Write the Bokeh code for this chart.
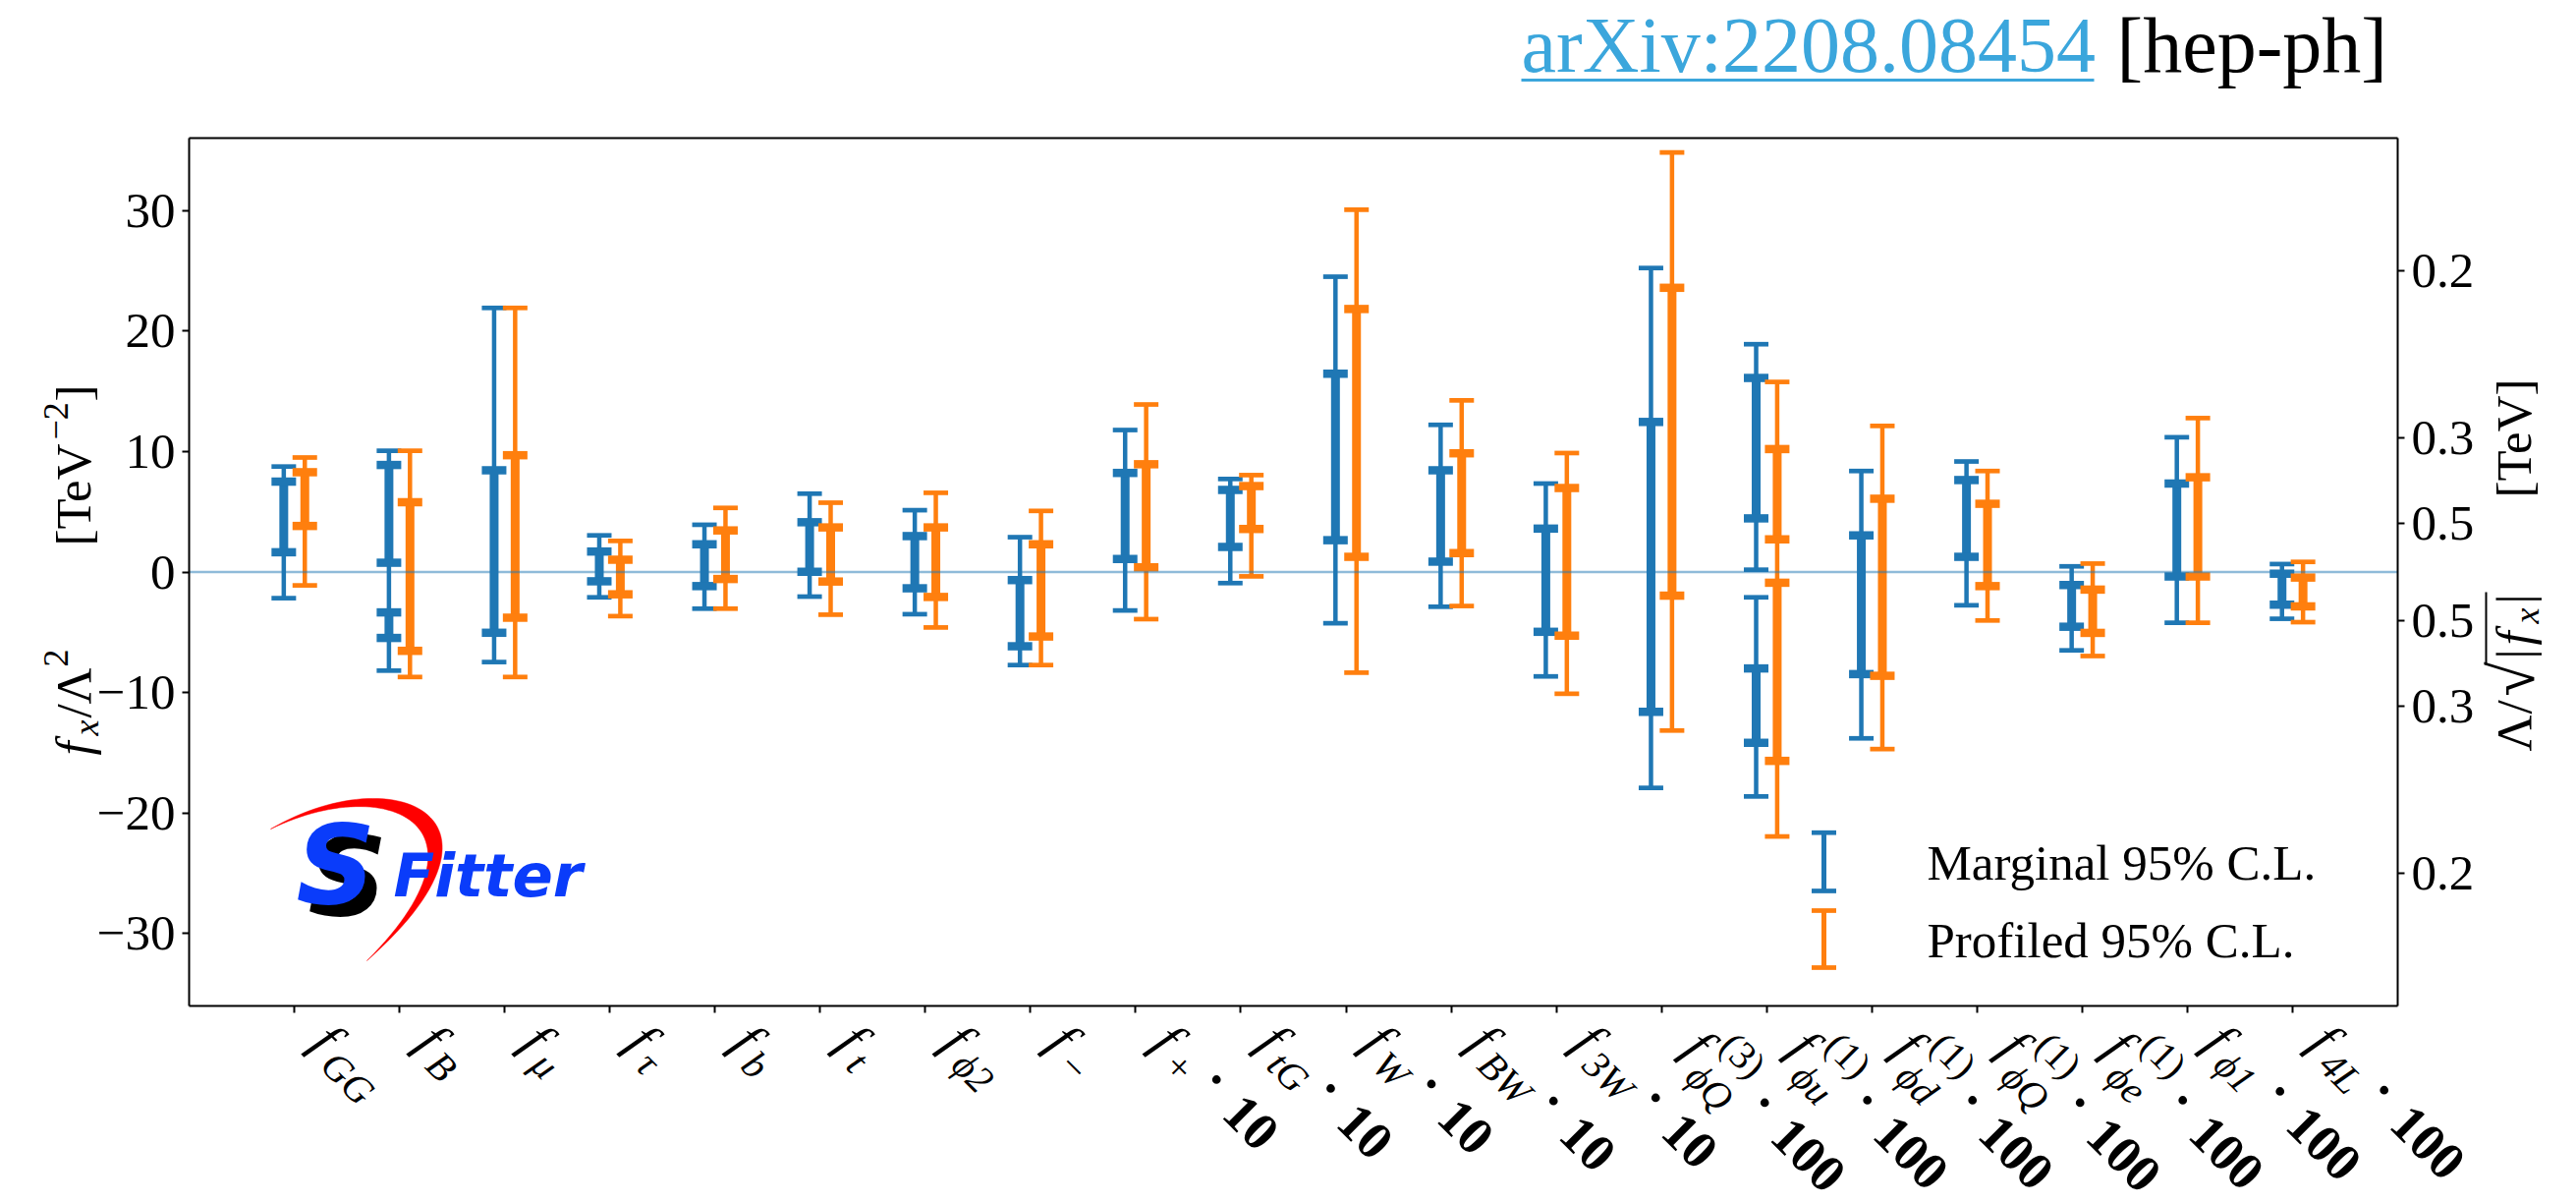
import math
import numpy as np
from bokeh.plotting import figure
from bokeh.models import (ColumnDataSource, Range1d, LinearAxis, FixedTicker,
                          CustomJSTickFormatter)
from bokeh.embed import file_html
from bokeh.resources import INLINE
from bokeh.core.properties import value

# ---------------- data ----------------
coefficients = ["f_GG", "f_B", "f_mu", "f_tau", "f_b", "f_t", "f_phi2", "f_-",
                "f_+ *10", "f_tG *10", "f_W *10", "f_BW *10", "f_3W *10",
                "f_phiQ(3) *100", "f_phiu(1) *100", "f_phid(1) *100",
                "f_phiQ(1) *100", "f_phie(1) *100", "f_phi1 *100", "f_4L *100"]
label_sub = ["GG", "B", "μ", "τ", "b", "t", "ϕ2", "−", "+", "tG", "W", "BW", "3W",
             "ϕQ", "ϕu", "ϕd", "ϕQ", "ϕe", "ϕ1", "4L"]
label_sup = ["", "", "", "", "", "", "", "", "", "", "", "", "",
             "(3)", "(1)", "(1)", "(1)", "(1)", "", ""]
label_factor = ["", "", "", "", "", "", "", "", "10", "10", "10", "10", "10",
                "100", "100", "100", "100", "100", "100", "100"]

# Marginal 95% C.L. (outer, thin) and inner (thick) intervals  [TeV^-2]
marg95_lo = [-2.17, -8.18, -7.47, -2.10, -3.04, -2.04, -3.50, -7.72, -3.19, -0.92,
             -4.25, -2.88, -8.66, -17.91, 0.19, -13.80, -2.76, -6.50, -4.21, -3.88]
marg95_hi = [8.75, 10.06, 21.91, 3.04, 3.92, 6.50, 5.13, 2.89, 11.78, 7.72,
             24.50, 12.21, 7.34, 25.22, 18.90, 8.38, 9.17, 0.47, 11.18, 0.66]
marg68_lo = [1.64, 0.77, -5.04, -0.77, -1.17, 0.02, -1.35, -6.16, 1.08, 2.08,
             2.64, 0.86, -4.96, -11.60, 4.45, -8.47, 1.26, -4.54, -0.37, -2.71]
marg68_hi = [7.50, 8.88, 8.44, 1.70, 2.30, 4.13, 2.98, -0.67, 8.22, 6.81,
             16.45, 8.44, 3.60, 12.45, 16.10, 3.04, 7.63, -1.08, 7.34, -0.14]
# additional disjoint intervals (category index, low, high)
marg95_extra_cat = [14]
marg95_extra_lo = [-18.62]
marg95_extra_hi = [-2.10]
marg68_extra_cat = [1, 14]
marg68_extra_lo = [-5.47, -14.17]
marg68_extra_hi = [-3.35, -8.00]

# Profiled 95% C.L.
prof95_lo = [-1.11, -8.71, -8.71, -3.66, -3.04, -3.54, -4.60, -7.72, -3.91, -0.36,
             -8.35, -2.82, -10.10, -13.15, -21.94, -14.69, -4.02, -6.97, -4.21, -4.16]
prof95_hi = [9.50, 10.06, 21.91, 2.58, 5.32, 5.75, 6.57, 5.07, 13.90, 8.04,
             30.06, 14.24, 9.87, 34.81, 15.77, 12.12, 8.38, 0.70, 12.77, 0.84]
prof68_lo = [3.82, -6.54, -3.79, -1.85, -0.58, -0.79, -2.07, -5.35, 0.39, 3.57,
             1.26, 1.57, -5.28, -1.96, 2.71, -8.61, -1.17, -5.05, -0.37, -2.85]
prof68_hi = [8.28, 5.79, 9.69, 1.02, 3.45, 3.70, 3.70, 2.30, 8.94, 7.13,
             21.82, 9.85, 6.97, 23.58, 10.20, 6.08, 5.66, -1.46, 7.86, -0.46]
prof95_extra_cat = []
prof95_extra_lo = []
prof95_extra_hi = []
prof68_extra_cat = [14]
prof68_extra_lo = [-15.67]
prof68_extra_hi = [-0.89]

left_ticks = [-30, -20, -10, 0, 10, 20, 30]
right_tick_lambda = [0.2, 0.3, 0.5]   # Lambda/sqrt|f| in TeV

# ---------------- layout constants ----------------
W, H = 2622, 1224
BOX_L, BOX_R, BOX_T, BOX_B = 192, 2440, 140, 1023     # plot box in page pixels
CX0, CX1 = -1.0, 20.0                                  # data x at box edges
CY0, CY1 = -36.0, 36.0                                 # data y at box edges
UX = (BOX_R - BOX_L) / (CX1 - CX0)
UY = (BOX_B - BOX_T) / (CY1 - CY0)
XA, XB = CX0 - BOX_L / UX, CX1 + (W - BOX_R) / UX
YA, YB = CY0 - (H - BOX_B) / UY, CY1 + BOX_T / UY
BLUE, ORANGE = "#1f77b4", "#ff7f0e"
SERIF = "Liberation Serif"
BASE_SHIFT = 0.37   # renderer puts the alphabetic baseline this many em lower


def px2data(px, py):
    px = np.asarray(px, dtype=float)
    py = np.asarray(py, dtype=float)
    return XA + px / UX, YB - py / UY


p = figure(width=W, height=H, x_range=Range1d(XA, XB), y_range=Range1d(YA, YB),
           toolbar_location=None, output_backend="svg", title=None,
           x_axis_type=None, y_axis_type=None, min_border=0)
p.grid.visible = False
p.outline_line_color = None
p.background_fill_color = "white"
p.border_fill_color = "white"


def put_text(pxs, pys, texts, size, style="normal", color="black", align="left",
             angle=0.0, font=SERIF):
    """Place texts whose alphabetic baseline anchor lies at page pixels (px, py)."""
    s = BASE_SHIFT * size
    vx, vy = -math.sin(angle), -math.cos(angle)
    xs, ys = px2data(np.asarray(pxs, float) + s * vx, np.asarray(pys, float) + s * vy)
    src = ColumnDataSource(dict(x=list(xs), y=list(ys), text=list(texts)))
    p.text(x="x", y="y", text="text", source=src, angle=angle,
           text_font=value(font), text_font_size=f"{size:.1f}px",
           text_font_style=style, text_color=color, text_align=align,
           text_baseline="alphabetic")


def local2page(X0, Y0, angle, a, b):
    ux, uy = math.cos(angle), -math.sin(angle)
    vx, vy = -math.sin(angle), -math.cos(angle)
    return X0 + a * ux + b * vx, Y0 + a * uy + b * vy


def put_parts(X0, Y0, angle, parts):
    for txt, size, style, a, b in parts:
        px, py = local2page(X0, Y0, angle, a, b)
        put_text([px], [py], [txt], size, style=style, angle=angle)


# ---------------- axes (library axes fixed at the plot box) ----------------
def style_axis(ax, labels=True):
    ax.axis_line_color = "black"
    ax.axis_line_width = 2
    ax.major_tick_line_color = "black"
    ax.major_tick_line_width = 2
    ax.major_tick_out = 7
    ax.major_tick_in = 0
    ax.minor_tick_out = 0
    ax.minor_tick_in = 0
    ax.major_label_text_font = SERIF
    ax.major_label_text_font_size = "51px"
    ax.major_label_text_color = "black"
    ax.major_label_standoff = 7
    if not labels:
        ax.major_label_text_alpha = 0


yl = LinearAxis(fixed_location=CX0, bounds=(CY0, CY1), ticker=FixedTicker(ticks=left_ticks),
                formatter=CustomJSTickFormatter(
                    code="return (tick < 0 ? '\u2212' : '') + Math.abs(tick).toFixed(0);"))
style_axis(yl)
p.add_layout(yl, "left")

rticks = [1.0 / l ** 2 for l in right_tick_lambda] + [-1.0 / l ** 2 for l in right_tick_lambda]
yr = LinearAxis(fixed_location=CX1, bounds=(CY0, CY1), ticker=FixedTicker(ticks=rticks),
                formatter=CustomJSTickFormatter(
                    code="return (1/Math.sqrt(Math.abs(tick))).toFixed(1);"))
style_axis(yr)
p.add_layout(yr, "right")

xb = LinearAxis(fixed_location=CY0, bounds=(CX0, CX1),
                ticker=FixedTicker(ticks=list(range(len(coefficients)))))
style_axis(xb, labels=False)
p.add_layout(xb, "below")

xt = LinearAxis(fixed_location=CY1, bounds=(CX0, CX1), ticker=FixedTicker(ticks=[]))
style_axis(xt, labels=False)
xt.major_tick_out = 0
p.add_layout(xt, "above")


# ---------------- error bars ----------------
def draw_bars(off, lo95, hi95, lo68, hi68, ex95, ex68, color):
    n = len(lo95)
    c95 = list(range(n)) + list(ex95[0])
    l95 = list(lo95) + list(ex95[1])
    h95 = list(hi95) + list(ex95[2])
    c68 = list(range(n)) + list(ex68[0])
    l68 = list(lo68) + list(ex68[1])
    h68 = list(hi68) + list(ex68[2])
    x95 = [c + off for c in c95]
    x68 = [c + off for c in c68]
    s95 = ColumnDataSource(dict(x=x95, lo=l95, hi=h95))
    s68 = ColumnDataSource(dict(x=x68, lo=l68, hi=h68))
    cap95 = ColumnDataSource(dict(x=x95 + x95, y=l95 + h95))
    cap68 = ColumnDataSource(dict(x=x68 + x68, y=l68 + h68))
    p.segment(x0="x", y0="lo", x1="x", y1="hi", source=s95, line_color=color, line_width=4.5)
    p.scatter(x="x", y="y", source=cap95, marker="dash", size=25, line_color=color,
              line_width=4.7)
    p.segment(x0="x", y0="lo", x1="x", y1="hi", source=s68, line_color=color, line_width=9)
    p.scatter(x="x", y="y", source=cap68, marker="dash", size=25, line_color=color,
              line_width=8.5)


draw_bars(-0.1, marg95_lo, marg95_hi, marg68_lo, marg68_hi,
          (marg95_extra_cat, marg95_extra_lo, marg95_extra_hi),
          (marg68_extra_cat, marg68_extra_lo, marg68_extra_hi), BLUE)
draw_bars(0.1, prof95_lo, prof95_hi, prof68_lo, prof68_hi,
          (prof95_extra_cat, prof95_extra_lo, prof95_extra_hi),
          (prof68_extra_cat, prof68_extra_lo, prof68_extra_hi), ORANGE)

p.segment(x0=[CX0], y0=[0], x1=[CX1], y1=[0], line_color=BLUE, line_alpha=0.5,
          line_width=2.3)

# ---------------- legend ----------------
leg_px = 1856
leg_rows = [(846.7, 906.0, BLUE, "Marginal 95% C.L.", 896.0),
            (926.0, 984.0, ORANGE, "Profiled 95% C.L.", 975.0)]
for top, bot, col, txt, base in leg_rows:
    lx, ly0 = px2data(leg_px, bot)
    _, ly1 = px2data(leg_px, top)
    p.segment(x0=[float(lx)], y0=[float(ly0)], x1=[float(lx)], y1=[float(ly1)],
              line_color=col, line_width=5)
    p.scatter(x=[float(lx), float(lx)], y=[float(ly0), float(ly1)], marker="dash",
              size=25, line_color=col, line_width=4.7)
    put_text([1961], [base], [txt], 51)

# ---------------- header ----------------
put_text([1548], [75], ["arXiv:2208.08454"], 80, color="#3ba6dc")
ux0, uy = px2data(1548, 81)
ux1, _ = px2data(2131, 81)
p.segment(x0=[float(ux0)], y0=[float(uy)], x1=[float(ux1)], y1=[float(uy)],
          line_color="#3ba6dc", line_width=3)
put_text([2154], [75], ["[hep-ph]"], 80)


# ---------------- logo ----------------
def bez(p0, p1, p2, p3, n=60):
    t = np.linspace(0, 1, n)[:, None]
    P = [np.array(q, dtype=float) for q in (p0, p1, p2, p3)]
    return ((1 - t) ** 3) * P[0] + 3 * ((1 - t) ** 2) * t * P[1] + 3 * (1 - t) * t ** 2 * P[2] + t ** 3 * P[3]


outer = bez((275, 843), (400, 770), (540, 830), (373, 977))
inner = bez((275, 843), (395, 785), (510, 840), (373, 977))[::-1]
poly = np.vstack([outer, inner])
cx, cy = px2data(poly[:, 0], poly[:, 1])
p.patch(x=list(cx), y=list(cy), fill_color="#ff0000", line_color="#ff0000", line_width=0.5)
put_text([313], [933], ["S"], 112, style="bold italic", font="DejaVu Sans")
put_text([301], [921], ["S"], 112, style="bold italic", color="#0a3cfa", font="DejaVu Sans")
put_text([400], [913], ["Fitter"], 61, style="bold italic", color="#0a3cfa", font="DejaVu Sans")

# ---------------- axis titles (rotated, composed) ----------------
UP = math.pi / 2
put_parts(93, 768, UP, [("f", 51, "italic", 0, 0), ("x", 36, "italic", 20, -8),
                        ("/", 51, "normal", 38, 0), ("Λ", 51, "normal", 52, 0),
                        ("2", 36, "normal", 90, 23)])
put_parts(93, 555, UP, [("[TeV", 51, "normal", 0, 0), ("−2", 36, "normal", 108, 23),
                        ("]", 51, "normal", 147, 0)])
rt_parts = [("Λ", 51, "normal", 0, 0), ("/", 51, "normal", 38, 0),
            ("√", 64, "normal", 56, -4), ("|", 51, "normal", 94, 0),
            ("f", 51, "italic", 108, 0), ("x", 36, "italic", 130, -8),
            ("|", 51, "normal", 150, 0)]
RT_Y0 = 764
put_parts(2577, RT_Y0, UP, rt_parts)
ox0, oy0 = local2page(2577, RT_Y0, UP, 88, 47)
ox1, oy1 = local2page(2577, RT_Y0, UP, 162, 47)
(dx0, dy0), (dx1, dy1) = px2data(ox0, oy0), px2data(ox1, oy1)
p.segment(x0=[float(dx0)], y0=[float(dy0)], x1=[float(dx1)], y1=[float(dy1)],
          line_color="black", line_width=2)
put_parts(2577, 506, UP, [("[TeV]", 51, "normal", 0, 0)])

# ---------------- x tick labels (rotated, composed) ----------------
F = 54.0
FS = 40.0
FN = 54.0
cr = math.sqrt(0.5)
WID = {"G": 0.722, "B": 0.611, "μ": 0.5, "τ": 0.44, "b": 0.5, "t": 0.278, "ϕ": 0.6,
       "2": 0.5, "−": 0.675, "+": 0.675, "W": 0.833, "3": 0.5, "Q": 0.722, "u": 0.5,
       "d": 0.5, "e": 0.444, "1": 0.5, "4": 0.5, "L": 0.556, "(": 0.333, ")": 0.333}


def tw(s):
    return sum(WID.get(ch, 0.5) for ch in s)


parts = {k: dict(px=[], py=[], text=[]) for k in ("f", "sub", "sup", "dot", "num")}
for i in range(len(coefficients)):
    tick_px = BOX_L + (i - CX0) * UX
    has_sup = label_sup[i] != ""
    ox, oy = (18.0, 48.0) if has_sup else (13.0, 42.0)
    Ox, Oy = tick_px + ox, BOX_B + oy

    def add(kind, txt, a, b):
        parts[kind]["px"].append(Ox + cr * (a + b))
        parts[kind]["py"].append(Oy + cr * (a - b))
        parts[kind]["text"].append(txt)

    add("f", "f", 0.0, 0.0)
    a0 = 0.40 * F if has_sup else 0.42 * F
    bs = -0.32 * F if has_sup else -0.14 * F
    add("sub", label_sub[i], a0, bs)
    a_end = a0 + tw(label_sub[i]) * FS
    if has_sup:
        a1 = 0.45 * F
        add("sup", label_sup[i], a1, 0.55 * F)
        a_end = max(a_end, a1 + tw(label_sup[i]) * FS)
    if label_factor[i]:
        add("dot", "·", a_end + 0.42 * F, 6.0)
        add("num", label_factor[i], a_end + 0.95 * F, 0.0)

styles = {"f": ("italic", F, "left"), "sub": ("italic", FS, "left"),
          "sup": ("normal", FS, "left"), "dot": ("bold", F, "center"),
          "num": ("bold", FN, "left")}
for kind, d in parts.items():
    if d["px"]:
        style, size, align = styles[kind]
        put_text(d["px"], d["py"], d["text"], size, style=style, align=align,
                 angle=-math.pi / 4)

open("out.html", "w").write(file_html(p, INLINE))
